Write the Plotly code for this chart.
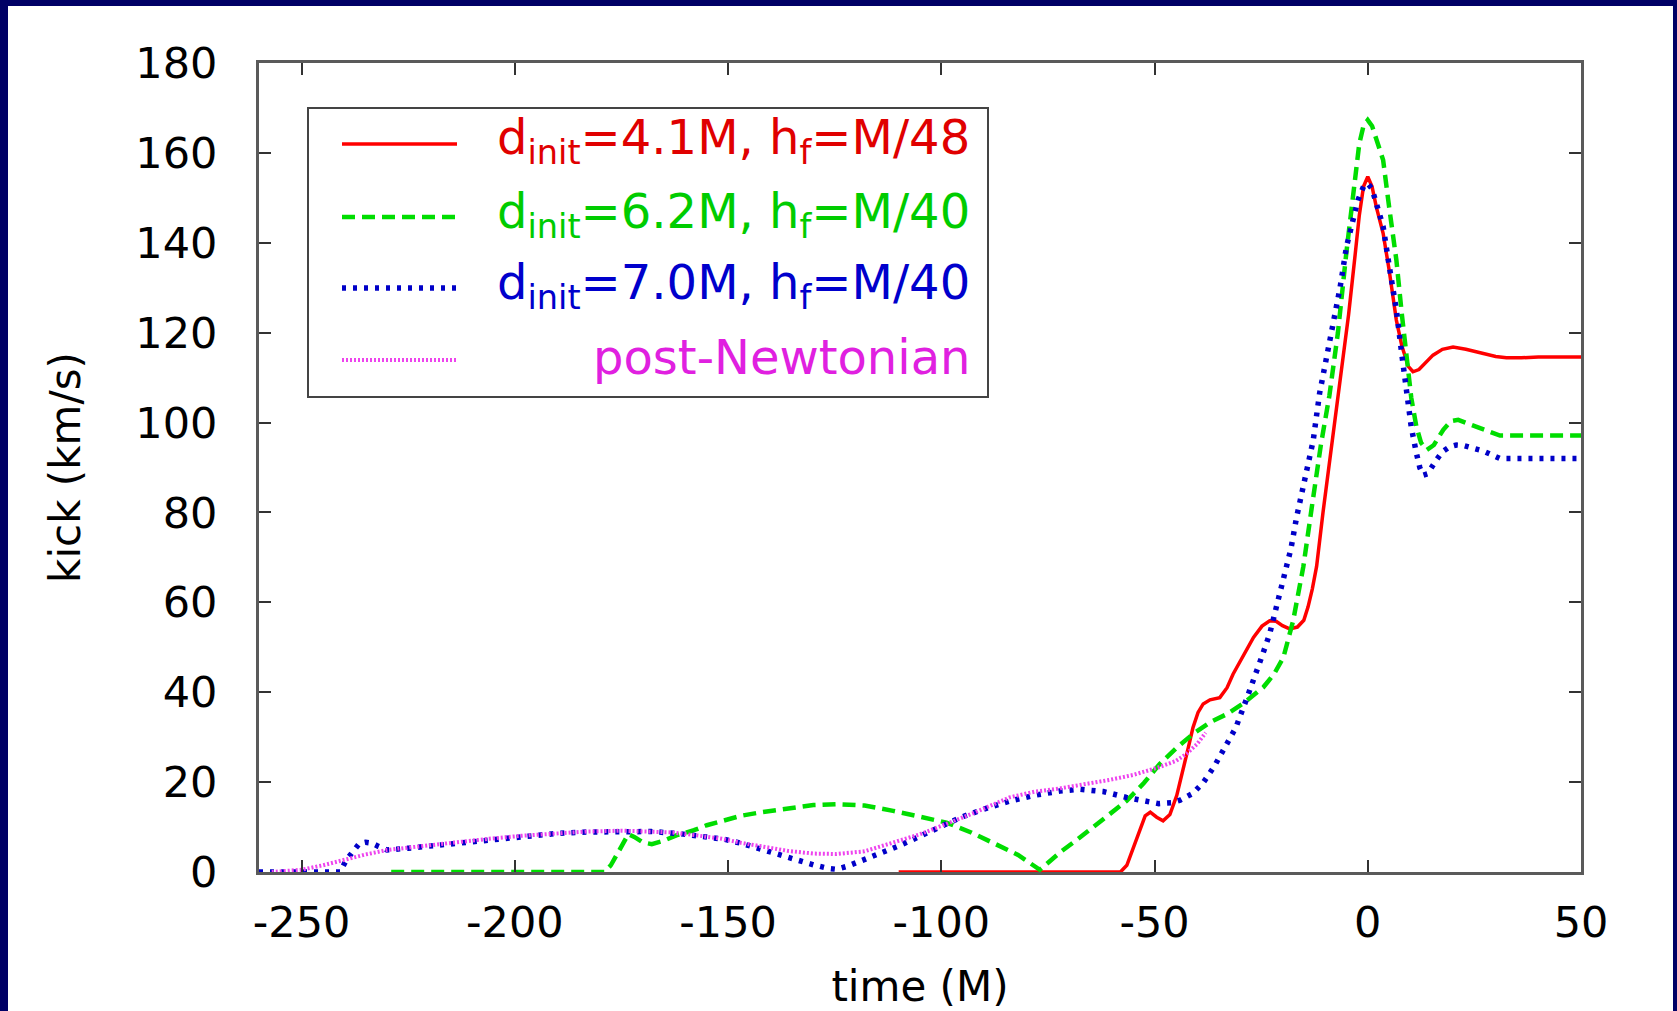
import plotly.graph_objects as go

# ---- data: recoil velocity (km/s) versus time (M) ----
red_t = [-110, -58, -56.5, -55, -53.5, -52.2, -51, -49.5, -48, -46.4, -44.8, -43.3, -42, -41, -39.8,
         -38.6, -37, -34.7, -33, -31.6, -29, -26.8, -24.8, -23, -21.5, -20, -18.3, -16.5, -15, -14,
         -13, -12, -10.5, -9, -7.5, -6, -4.5, -3, -2, -1, 0, 1, 2, 3.6, 5, 6.7, 8, 9.5, 10.6, 12,
         13.5, 15.3, 17.5, 20, 23, 27, 30, 32.5, 36, 40, 50]
red_v = [0, 0, 1.5, 5.4, 9.5, 12.5, 13.3, 12.2, 11.4, 12.8, 17, 22.5, 28, 32.1, 35.5,
         37.4, 38.3, 38.8, 41, 44, 48.5, 52.2, 54.7, 55.9, 55.8, 54.8, 54.1, 54.5, 56, 59,
         63, 68, 80, 91, 101, 112, 124, 137, 146, 152.5, 154.7, 152.5, 148, 142.1, 134, 122.8, 117, 112.5, 111.3, 111.8,
         113.2, 115, 116.3, 116.8, 116.3, 115.4, 114.7, 114.4, 114.4, 114.6, 114.6]

green_t = [-229, -179, -177.5, -176, -174.5, -173.4, -172, -170, -167.9, -165, -162, -158, -155, -151.5,
           -147, -142.2, -136, -130, -124.6, -118, -111.3, -105, -98.8, -93, -87.9, -82, -76.9, -72,
           -68, -64.4, -60.5, -56.6, -52.5, -48.8, -45, -41, -37, -33.1, -29.2, -26.5, -24.5, -22,
           -19.8, -17.5, -15.1, -13, -11, -9, -7, -5, -3, -2, -1, 0, 1, 2, 3.6, 5, 6.7, 8, 9.1,
           10.2, 11.4, 12.5, 13.8, 15.5, 17.7, 19.5, 21.2, 24, 27, 31, 35, 50]
green_v = [0, 0, 1.5, 4, 7, 8.4, 7.8, 6.6, 6.2, 7, 8.2, 9.3, 10.4, 11.4,
           12.5, 13.3, 14.2, 14.9, 15.1, 14.8, 13.6, 12.3, 11.0, 8.8, 6.5, 3.8, 0.5, 4.5,
           7.3, 9.9, 12.8, 15.8, 19.8, 24.0, 27.5, 30.7, 33.3, 35.1, 37.5, 39.5, 41.1, 44,
           47.7, 55.9, 68, 82, 95, 106, 120, 138, 155, 162, 166, 167.3, 166, 163, 158.4, 148, 136.2, 124, 113.9,
           105.5, 99.1, 95.5, 93.9, 95, 98.4, 100.3, 100.6, 99.6, 98.4, 97.1, 97.1, 97.1]

blue_t = [-260, -241, -239.5, -238, -236.5, -235, -233.5, -232, -230, -225, -220, -214, -206, -198,
          -190, -183, -175, -168, -162, -156, -151, -147, -142, -138, -134.7, -130, -126.5, -124.6,
          -122, -119, -115.2, -110, -105.8, -100, -95.6, -90, -83.9, -78, -72.2, -67.5, -62, -56.6,
          -52, -49, -46, -44, -41, -38.5, -36, -33, -31, -29, -27, -25, -23, -21.5, -19.8, -18,
          -16.7, -14.4, -12.8, -11.3, -9.8, -8.2, -6.5, -5, -3.5, -2.3, -1, 0, 1, 2, 3.6, 5, 6.7,
          8, 9.1, 10.2, 11.4, 12.2, 13, 14, 16.1, 17.5, 19.2, 20.8, 22.4, 24.5, 27, 31, 35, 50]
blue_v = [0, 0, 2.7, 4.7, 6.3, 6.6, 6.4, 5.7, 4.9, 5.3, 5.8, 6.5, 7.3, 8.0,
          8.6, 8.9, 9.1, 9.0, 8.6, 7.9, 7.3, 6.4, 4.9, 3.8, 2.8, 1.6, 0.8, 0.6,
          1.3, 2.4, 3.9, 5.8, 7.6, 10.0, 12.1, 14.0, 15.8, 17.1, 18.0, 18.4, 17.9, 16.6,
          15.6, 15.2, 15.4, 16.0, 17.5, 20, 23.5, 28.5, 32, 37, 42, 47.5, 53, 58.5, 64.8, 72,
          78.9, 88.6, 96, 106.5, 114, 121.3, 130, 139.1, 145, 149.5, 152.5, 153.2, 152, 149, 143.6, 135, 125.1,
          115, 106.5, 99, 93.2, 90, 88.3, 88.6, 91.7, 93.5, 94.6, 95, 94.9, 94.4, 93.7, 92.0, 92.0, 92.0]

pn_t = [-257, -253, -250, -245, -240, -235, -230, -222, -214, -206, -198, -190, -183, -175, -168,
        -163, -157, -151.5, -147, -142, -136, -130, -124.6, -118, -111.3, -105, -98.8, -92, -84,
        -78, -72.2, -66, -60.5, -55, -49, -45, -42.5, -40, -38]
pn_v = [0, 0.2, 0.5, 1.5, 2.8, 3.9, 4.9, 5.8, 6.6, 7.4, 8.1, 8.6, 9.0, 9.2, 9.0,
        8.8, 8.1, 7.4, 6.5, 5.6, 4.7, 4.1, 4.0, 4.6, 6.6, 8.4, 10.7, 13.3, 16.6,
        17.9, 18.6, 19.5, 20.5, 21.6, 23.3, 24.7, 26.3, 28.5, 31.0]

labels = ["d<sub>init</sub>=4.1M, h<sub>f</sub>=M/48",
          "d<sub>init</sub>=6.2M, h<sub>f</sub>=M/40",
          "d<sub>init</sub>=7.0M, h<sub>f</sub>=M/40",
          "post-Newtonian"]
x_ticks = [-250, -200, -150, -100, -50, 0, 50]
x_tick_text = ["-250", "-200", "-150", "-100", "-50", "0", "50"]
y_ticks = [0, 20, 40, 60, 80, 100, 120, 140, 160, 180]

# ---- styling ----
FONT = "DejaVu Sans"
line_colors = ["#ff0000", "#00dd00", "#0000c8", "#ee44ee"]
text_colors = ["#e00000", "#00cc00", "#0000cc", "#e020e0"]
dashes = ["solid", "13px,7px", "4px,7px", "2px,2px"]
widths = [3.5, 4.5, 5.5, 4]

W, H = 1677, 1011
ML, MR, MT, MB = 259, 96, 63, 139
PW, PH = W - ML - MR, H - MT - MB


def xp(px):
    return (px - ML) / PW


def yp(py):
    return (H - MB - py) / PH


fig = go.Figure()
series = [(red_t, red_v), (green_t, green_v), (blue_t, blue_v), (pn_t, pn_v)]
for (t, v), c, d, w, name in zip(series, line_colors, dashes, widths, labels):
    fig.add_trace(go.Scatter(x=t, y=v, mode="lines", name=name,
                             line=dict(color=c, dash=d, width=w),
                             showlegend=False))

shapes = [
    # white card on the navy slide background
    dict(type="rect", xref="paper", yref="paper", layer="below",
         x0=xp(8), x1=xp(1673), y0=yp(1020), y1=yp(6),
         fillcolor="white", line=dict(width=0)),
    # key box
    dict(type="rect", xref="paper", yref="paper",
         x0=xp(308), x1=xp(988), y0=yp(397), y1=yp(108),
         fillcolor="rgba(0,0,0,0)", line=dict(color="#444444", width=2)),
]
rows = [144, 217, 288, 360]
annotations = []
for py, c, tc, d, w, name in zip(rows, line_colors, text_colors, dashes, widths, labels):
    shapes.append(dict(type="line", xref="paper", yref="paper",
                       x0=xp(342), x1=xp(457), y0=yp(py), y1=yp(py),
                       line=dict(color=c, dash=d, width=w)))
    annotations.append(dict(xref="paper", yref="paper", x=xp(972), y=yp(py - 3),
                            xanchor="right", yanchor="middle", showarrow=False,
                            text=name, font=dict(family=FONT, size=48, color=tc)))

axis_common = dict(showline=True, linecolor="#5a5a5a", linewidth=3, mirror="ticks",
                   ticks="inside", ticklen=12, tickwidth=2, tickcolor="#333333",
                   showgrid=False, zeroline=False, automargin=False,
                   tickfont=dict(family=FONT, size=43, color="black"))

fig.update_layout(
    width=W, height=H,
    margin=dict(l=ML, r=MR, t=MT, b=MB),
    paper_bgcolor="#000066", plot_bgcolor="white",
    shapes=shapes, annotations=annotations,
    xaxis=dict(range=[-260, 50], tickvals=x_ticks, ticktext=x_tick_text, ticklabelstandoff=10,
               title=dict(text="time (M)", font=dict(family=FONT, size=42, color="black"),
                          standoff=33),
               **axis_common),
    yaxis=dict(range=[0, 180], tickvals=y_ticks, ticklabelstandoff=30,
               title=dict(text="kick (km/s)", font=dict(family=FONT, size=42, color="black"),
                          standoff=42),
               **axis_common),
)

fig.write_html("out.html")
